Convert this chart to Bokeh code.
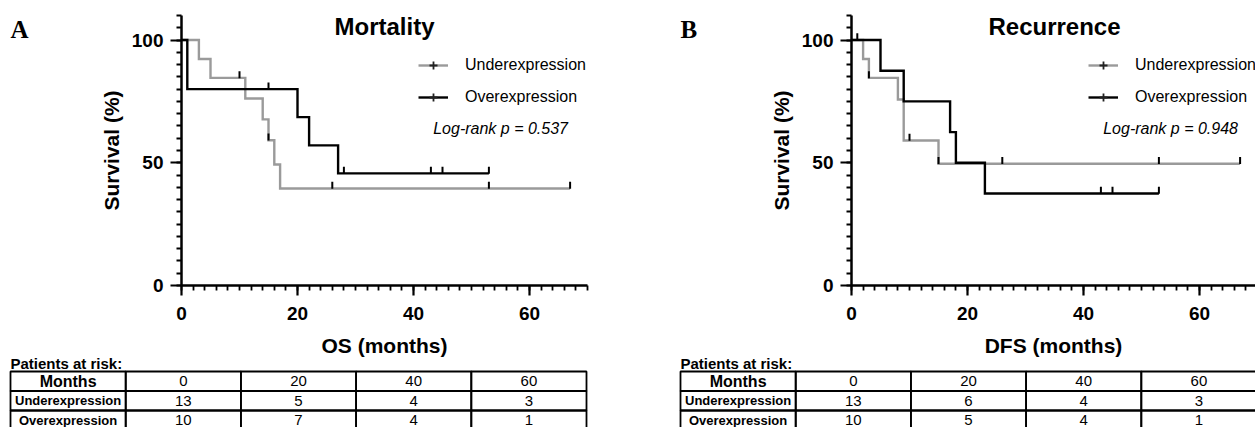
import math
from bokeh.plotting import figure
from bokeh.models import Range1d, FixedTicker, Label, Legend, LegendItem
from bokeh.layouts import column, row
from bokeh.core.properties import value
from bokeh.embed import file_html
from bokeh.resources import INLINE

# ---------------- data ----------------
# Panel A: Mortality (OS)
os_under_t = [0, 3, 5, 11, 14, 15, 16, 17]
os_under_s = [100, 92.3, 84.6, 76.2, 67.7, 59.2, 49.3, 39.5]
os_under_end = 67
os_under_cens_t = [10, 15, 26, 53, 67]
os_under_cens_s = [84.6, 59.2, 39.5, 39.5, 39.5]

os_over_t = [0, 1, 20, 22, 27]
os_over_s = [100, 80, 68.6, 57.1, 45.7]
os_over_end = 53
os_over_cens_t = [15, 28, 43, 45, 53]
os_over_cens_s = [80, 45.7, 45.7, 45.7, 45.7]

# Panel B: Recurrence (DFS)
dfs_under_t = [0, 2, 3, 8, 9, 15]
dfs_under_s = [100, 92.3, 84.6, 75.8, 59.1, 49.6]
dfs_under_end = 67
dfs_under_cens_t = [1, 3, 10, 15, 26, 53, 67]
dfs_under_cens_s = [100, 84.6, 59.1, 49.6, 49.6, 49.6, 49.6]

dfs_over_t = [0, 5, 9, 17, 18, 23]
dfs_over_s = [100, 87.5, 75, 62.5, 50, 37.5]
dfs_over_end = 53
dfs_over_cens_t = [43, 45, 53]
dfs_over_cens_s = [37.5, 37.5, 37.5]

# risk tables
risk_months = ["0", "20", "40", "60"]
row_labels = ["Months", "Underexpression", "Overexpression"]
os_risk_under = [13, 5, 4, 3]
os_risk_over = [10, 7, 4, 1]
dfs_risk_under = [13, 6, 4, 3]
dfs_risk_over = [10, 5, 4, 1]

x_major = [0, 20, 40, 60]
y_major = [0, 50, 100]

# ---------------- style ----------------
FONT = "Liberation Sans"
GRAY = "#9a9a9a"
LW = 2.4
CENSOR_LIFT = 1.3
COLW = 115.2
ROWH = 19.5
PLOT_H = 372
TAB_OVERLAP = 30
TAB_H = 427 - PLOT_H + TAB_OVERLAP
TAB_TOP = 371 - (PLOT_H - TAB_OVERLAP)
STRIP_W = 60
PX_PER_MONTH = 5.8


def letter_strip(letter):
    f = figure(width=STRIP_W, height=PLOT_H, x_range=Range1d(0, STRIP_W),
               y_range=Range1d(PLOT_H, 0), output_backend="svg", toolbar_location=None,
               x_axis_location=None, y_axis_location=None, min_border=0)
    f.title.visible = False
    f.outline_line_color = None
    f.xgrid.visible = False
    f.ygrid.visible = False
    f.text(x=[10], y=[19], text=[letter], text_align="left", text_baseline="alphabetic",
           text_font=value("Liberation Serif"), text_font_style="bold",
           text_font_size="25px", text_color="black")
    return f


def km_panel(title, xlabel, pval, under, over, width, mb_right, x_end):
    p = figure(width=width, height=PLOT_H, x_range=Range1d(0, x_end), y_range=Range1d(0, 110),
               output_backend="svg", toolbar_location=None,
               min_border_left=121, min_border_right=mb_right, min_border_top=15,
               min_border_bottom=PLOT_H - 285)
    p.title.visible = False
    p.outline_line_color = None
    p.xgrid.visible = False
    p.ygrid.visible = False
    # range used only to keep legend proxy glyphs off the frame
    p.extra_y_ranges = {"proxy": Range1d(1000, 2000)}

    p.xaxis.ticker = FixedTicker(ticks=x_major, minor_ticks=list(range(0, 71, 2)))
    p.yaxis.ticker = FixedTicker(ticks=y_major, minor_ticks=list(range(0, 111, 5)))
    for ax in (p.xaxis[0], p.yaxis[0]):
        ax.axis_line_width = 2.5
        ax.axis_line_color = "black"
        ax.major_tick_line_width = 2.2
        ax.minor_tick_line_width = 1.8
        ax.major_tick_line_color = "black"
        ax.minor_tick_line_color = "black"
        ax.major_tick_in = 0
        ax.minor_tick_in = 0
        ax.major_label_text_font = FONT
        ax.major_label_text_font_style = "bold"
        ax.major_label_text_font_size = "19px"
        ax.major_label_text_color = "black"
        ax.axis_label_text_font = FONT
        ax.axis_label_text_font_style = "bold"
        ax.axis_label_text_font_size = "21px"
        ax.axis_label_text_color = "black"
    p.xaxis.major_tick_out = 10
    p.xaxis.minor_tick_out = 5
    p.yaxis.major_tick_out = 11
    p.yaxis.minor_tick_out = 5
    p.xaxis.major_label_standoff = 11
    p.yaxis.major_label_standoff = 7
    p.xaxis.axis_label = xlabel
    p.yaxis.axis_label = "Survival (%)"
    p.xaxis.axis_label_standoff = 11
    p.yaxis.axis_label_standoff = 6

    items = []
    for (t, s, end, ct, cs), col, name in ((under, GRAY, "Underexpression"),
                                           (over, "black", "Overexpression")):
        r = p.step(x=t + [end], y=s + [s[-1]], mode="after", line_color=col, line_width=LW,
                   line_join="miter")
        p.scatter(x=ct, y=[v + CENSOR_LIFT for v in cs], marker="dash", angle=math.pi / 2,
                  size=7, line_color="black", line_width=2)
        proxy = p.scatter(x=ct, y=cs, y_range_name="proxy", marker="cross", size=8,
                          line_color="#222222", line_width=1.8)
        items.append(LegendItem(label=name, renderers=[r, proxy]))

    lg = Legend(items=items, location=(237, 178), glyph_width=30, glyph_height=20,
                label_height=20, label_standoff=17, spacing=12, padding=0, margin=0,
                border_line_color=None, background_fill_alpha=0,
                label_text_font=FONT, label_text_font_size="16px", label_text_color="black")
    p.add_layout(lg)

    p.add_layout(Label(x=35, y=259, x_units="data", y_units="screen", text=title,
                       text_align="center", text_baseline="alphabetic", text_font=FONT,
                       text_font_style="bold", text_font_size="24px", text_color="black"))
    p.add_layout(Label(x=43.4, y=157, x_units="data", y_units="screen", text=pval,
                       text_align="left", text_baseline="alphabetic", text_font=FONT,
                       text_font_style="italic", text_font_size="16px", text_color="black"))
    return p


def table_panel(width, risk_under, risk_over):
    x_start = -10 / COLW
    x_end = (width - 10) / COLW
    y_start = (TAB_H - TAB_TOP) / ROWH
    y_end = -TAB_TOP / ROWH
    t = figure(width=width, height=TAB_H, x_range=Range1d(x_start, x_end),
               y_range=Range1d(y_start, y_end), output_backend="svg", toolbar_location=None,
               x_axis_location=None, y_axis_location=None, min_border=0,
               margin=(-TAB_OVERLAP, 0, 0, 0))
    t.title.visible = False
    t.outline_line_color = None
    t.xgrid.visible = False
    t.ygrid.visible = False
    t.background_fill_alpha = 0
    t.border_fill_alpha = 0

    ncol = len(risk_months) + 1
    nrow = len(row_labels)
    left, right, top, bottom = [], [], [], []
    for j in range(nrow):
        for i in range(ncol):
            left.append(i); right.append(i + 1); top.append(j); bottom.append(j + 1)
    t.quad(left=left, right=right, top=top, bottom=bottom, fill_color=None,
           line_color="black", line_width=1.8)

    t.text(x=[0.5], y=[0.5], text=[row_labels[0]], text_align="center", text_baseline="middle",
           text_font=value(FONT), text_font_style="bold", text_font_size="16px", text_color="black")
    t.text(x=[0.5, 0.5], y=[1.5, 2.5], text=row_labels[1:], text_align="center",
           text_baseline="middle", text_font=value(FONT), text_font_style="bold",
           text_font_size="13px", text_color="black")
    xs, ys, txt = [], [], []
    for j, vals in enumerate([risk_months, risk_under, risk_over]):
        for i, v in enumerate(vals):
            xs.append(i + 1.5); ys.append(j + 0.5); txt.append(str(v))
    t.text(x=xs, y=ys, text=txt, text_align="center", text_baseline="middle",
           text_font=value(FONT), text_font_size="15px", text_color="black")
    t.text(x=[0], y=[-0.42], text=["Patients at risk:"], text_align="left",
           text_baseline="alphabetic", text_font=value(FONT), text_font_style="bold",
           text_font_size="15px", text_color="black")
    return t


fA = letter_strip("A")
pA = km_panel("Mortality", "OS (months)", "Log-rank p = 0.537",
              (os_under_t, os_under_s, os_under_end, os_under_cens_t, os_under_cens_s),
              (os_over_t, os_over_s, os_over_end, os_over_cens_t, os_over_cens_s),
              610, 83, 70)
fB = letter_strip("B")
pB = km_panel("Recurrence", "DFS (months)", "Log-rank p = 0.948",
              (dfs_under_t, dfs_under_s, dfs_under_end, dfs_under_cens_t, dfs_under_cens_s),
              (dfs_over_t, dfs_over_s, dfs_over_end, dfs_over_cens_t, dfs_over_cens_s),
              525, 0, 404 / PX_PER_MONTH)
tA = table_panel(670, os_risk_under, os_risk_over)
tB = table_panel(585, dfs_risk_under, dfs_risk_over)

layout = column(row(fA, pA, fB, pB), row(tA, tB))
open("out.html", "w").write(file_html(layout, INLINE))
